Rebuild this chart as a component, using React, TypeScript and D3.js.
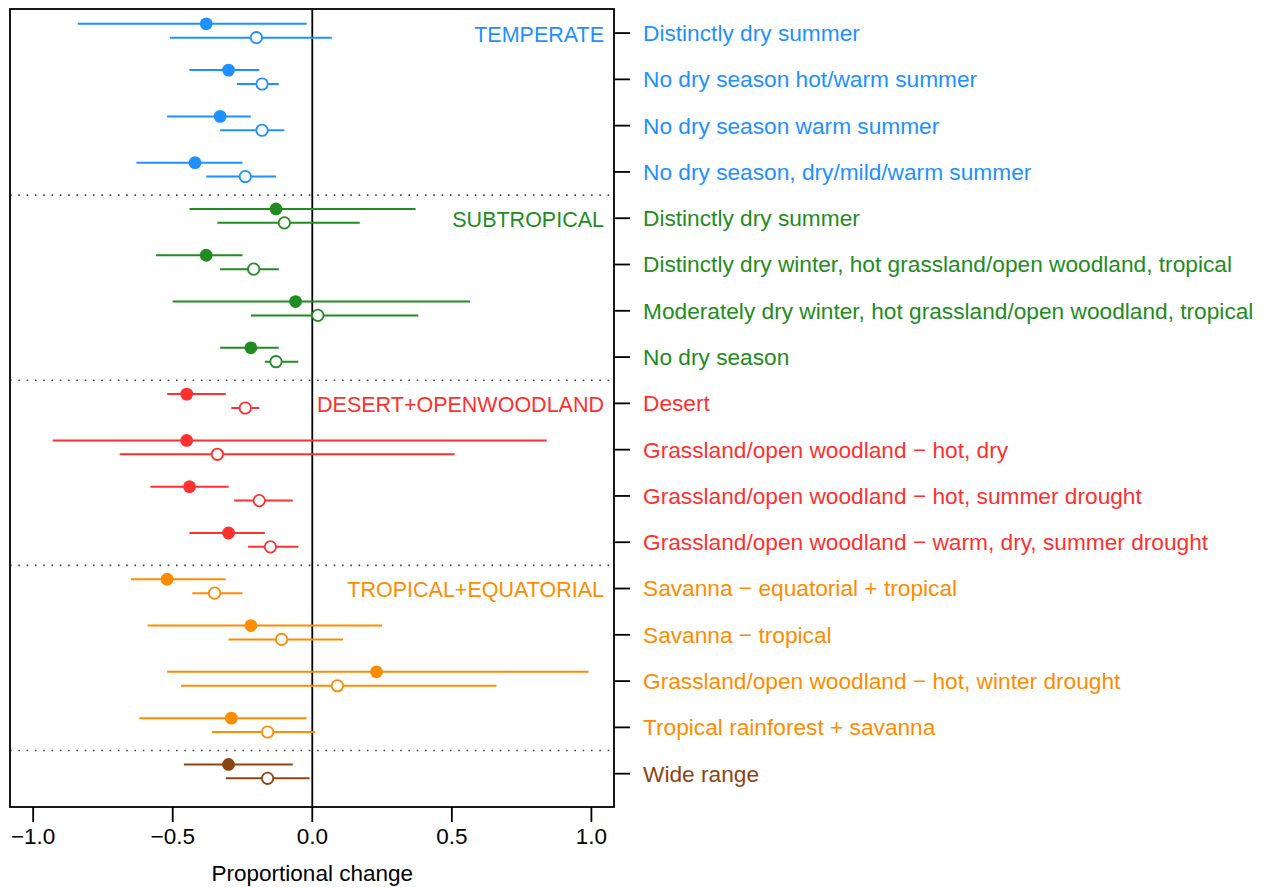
import React, { useEffect, useRef } from 'react';
import * as d3 from 'd3';

// Categories, top to bottom
const categories = [
  'Distinctly dry summer',
  'No dry season hot/warm summer',
  'No dry season warm summer',
  'No dry season, dry/mild/warm summer',
  'Distinctly dry summer',
  'Distinctly dry winter, hot grassland/open woodland, tropical',
  'Moderately dry winter, hot grassland/open woodland, tropical',
  'No dry season',
  'Desert',
  'Grassland/open woodland \u2212 hot, dry',
  'Grassland/open woodland \u2212 hot, summer drought',
  'Grassland/open woodland \u2212 warm, dry, summer drought',
  'Savanna \u2212 equatorial + tropical',
  'Savanna \u2212 tropical',
  'Grassland/open woodland \u2212 hot, winter drought',
  'Tropical rainforest + savanna',
  'Wide range',
];

// which climate group each row belongs to
const groupOf = [0, 0, 0, 0, 1, 1, 1, 1, 2, 2, 2, 2, 3, 3, 3, 3, 4];
const groupNames = ['TEMPERATE', 'SUBTROPICAL', 'DESERT+OPENWOODLAND', 'TROPICAL+EQUATORIAL', ''];
const groupColors = ['#1E90FF', '#228B22', '#FF3030', '#FF8C00', '#8B4513'];

// filled points (estimate + interval)
const filledEst = [-0.38, -0.30, -0.33, -0.42, -0.13, -0.38, -0.06, -0.22, -0.45, -0.45, -0.44, -0.30, -0.52, -0.22, 0.23, -0.29, -0.30];
const filledLo = [-0.84, -0.44, -0.52, -0.63, -0.44, -0.56, -0.50, -0.33, -0.52, -0.93, -0.58, -0.44, -0.65, -0.59, -0.52, -0.62, -0.46];
const filledHi = [-0.02, -0.19, -0.22, -0.25, 0.37, -0.25, 0.565, -0.12, -0.31, 0.84, -0.30, -0.17, -0.31, 0.25, 0.99, -0.02, -0.07];

// open points (estimate + interval)
const openEst = [-0.20, -0.18, -0.18, -0.24, -0.10, -0.21, 0.02, -0.13, -0.24, -0.34, -0.19, -0.15, -0.35, -0.11, 0.09, -0.16, -0.16];
const openLo = [-0.51, -0.27, -0.33, -0.38, -0.34, -0.33, -0.22, -0.17, -0.29, -0.69, -0.28, -0.23, -0.43, -0.30, -0.47, -0.36, -0.31];
const openHi = [0.07, -0.12, -0.10, -0.13, 0.17, -0.12, 0.38, -0.05, -0.19, 0.51, -0.07, -0.05, -0.25, 0.11, 0.66, 0.01, -0.01];

const xTicks = [-1, -0.5, 0, 0.5, 1];
const separators = [3.5, 7.5, 11.5, 15.5];

const FONT = '"Liberation Sans", Arial, Helvetica, sans-serif';

const App = () => {
  const svgRef = useRef<SVGSVGElement>(null);

  useEffect(() => {
    const svg = d3.select(svgRef.current);
    svg.selectAll('*').remove();

    const left = 10, right = 614, top = 9, bottom = 807;

    const x = d3.scaleLinear().domain([-1.083, 1.081]).range([left, right]);
    const y = d3.scaleLinear().domain([-0.52, 16.72]).range([top, bottom]);

    const rows = categories.map((c, i) => ({
      i,
      label: c,
      color: groupColors[groupOf[i]],
    }));

    // dotted group separators
    svg.append('g')
      .selectAll('line')
      .data(separators)
      .join('line')
      .attr('x1', left)
      .attr('x2', right)
      .attr('y1', d => y(d))
      .attr('y2', d => y(d))
      .attr('stroke', '#444')
      .attr('stroke-width', 1.6)
      .attr('stroke-dasharray', '1.6,6.7');

    // zero line
    svg.append('line')
      .attr('x1', x(0)).attr('x2', x(0))
      .attr('y1', top).attr('y2', bottom)
      .attr('stroke', '#000')
      .attr('stroke-width', 1.8);

    // intervals
    const g = svg.append('g');
    g.selectAll('line.f')
      .data(rows)
      .join('line')
      .attr('class', 'f')
      .attr('x1', d => x(filledLo[d.i]))
      .attr('x2', d => x(filledHi[d.i]))
      .attr('y1', d => y(d.i - 0.2))
      .attr('y2', d => y(d.i - 0.2))
      .attr('stroke', d => d.color)
      .attr('stroke-width', 2);
    g.selectAll('line.o')
      .data(rows)
      .join('line')
      .attr('class', 'o')
      .attr('x1', d => x(openLo[d.i]))
      .attr('x2', d => x(openHi[d.i]))
      .attr('y1', d => y(d.i + 0.1))
      .attr('y2', d => y(d.i + 0.1))
      .attr('stroke', d => d.color)
      .attr('stroke-width', 2);

    // points
    g.selectAll('circle.f')
      .data(rows)
      .join('circle')
      .attr('class', 'f')
      .attr('cx', d => x(filledEst[d.i]))
      .attr('cy', d => y(d.i - 0.2))
      .attr('r', 6.4)
      .attr('fill', d => d.color);
    g.selectAll('circle.o')
      .data(rows)
      .join('circle')
      .attr('class', 'o')
      .attr('cx', d => x(openEst[d.i]))
      .attr('cy', d => y(d.i + 0.1))
      .attr('r', 5.7)
      .attr('fill', '#fff')
      .attr('stroke', d => d.color)
      .attr('stroke-width', 1.8);

    // group labels
    svg.append('g')
      .selectAll('text')
      .data(groupNames.map((n, k) => ({ n, k, i: groupOf.indexOf(k) })).filter(d => d.n))
      .join('text')
      .attr('x', right - 10)
      .attr('y', d => y(d.i) + 1)
      .attr('dy', '0.35em')
      .attr('text-anchor', 'end')
      .attr('fill', d => groupColors[d.k])
      .style('font-family', FONT)
      .style('font-size', '21.5px')
      .text(d => d.n);

    // plot box
    svg.append('rect')
      .attr('x', left).attr('y', top)
      .attr('width', right - left).attr('height', bottom - top)
      .attr('fill', 'none')
      .attr('stroke', '#000')
      .attr('stroke-width', 1.8);

    // right axis: ticks + coloured labels
    const ry = svg.append('g');
    ry.selectAll('line')
      .data(rows)
      .join('line')
      .attr('x1', right).attr('x2', right + 16)
      .attr('y1', d => y(d.i)).attr('y2', d => y(d.i))
      .attr('stroke', '#000')
      .attr('stroke-width', 1.8);
    ry.selectAll('text')
      .data(rows)
      .join('text')
      .attr('x', 643)
      .attr('y', d => y(d.i))
      .attr('dy', '0.35em')
      .attr('fill', d => d.color)
      .style('font-family', FONT)
      .style('font-size', '22.7px')
      .text(d => d.label);

    // bottom axis
    const bx = svg.append('g');
    bx.selectAll('line')
      .data(xTicks)
      .join('line')
      .attr('x1', d => x(d)).attr('x2', d => x(d))
      .attr('y1', bottom).attr('y2', bottom + 15)
      .attr('stroke', '#000')
      .attr('stroke-width', 1.8);
    bx.selectAll('text')
      .data(xTicks)
      .join('text')
      .attr('x', d => x(d))
      .attr('y', 844)
      .attr('text-anchor', 'middle')
      .attr('fill', '#000')
      .style('font-family', FONT)
      .style('font-size', '22.5px')
      .text(d => d3.format('.1f')(d).replace('-', '\u2013'));

    svg.append('text')
      .attr('x', x(0))
      .attr('y', 881)
      .attr('text-anchor', 'middle')
      .attr('fill', '#000')
      .style('font-family', FONT)
      .style('font-size', '22.5px')
      .text('Proportional change');
  }, []);

  return (
    <svg
      ref={svgRef}
      width={1268}
      height={887}
      style={{ position: 'absolute', left: 0, top: 0, background: '#fff' }}
    />
  );
};

export default App;
